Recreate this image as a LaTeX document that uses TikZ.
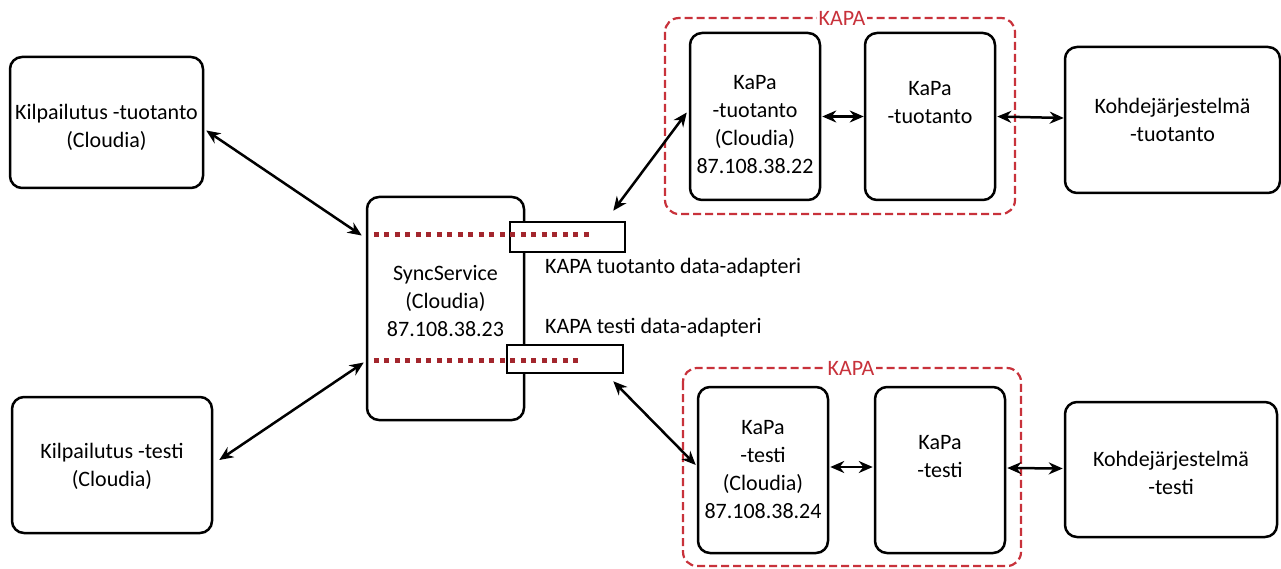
\documentclass[tikz,border=0pt]{standalone}
\usepackage{fontspec}
\setmainfont{Carlito}
\usetikzlibrary{arrows.meta,calc}
\definecolor{dotred}{HTML}{A3262D}
\definecolor{kapared}{HTML}{C8323B}
\tikzset{
  box/.style={draw=black,line width=2.5pt,rounded corners=12pt,fill=white,align=center,inner sep=0pt,font=\fontsize{22}{28}\selectfont},
  adbox/.style={draw=black,line width=2.5pt,fill=white,inner sep=0pt},
  grp/.style={draw=kapared,line width=2.2pt,dash pattern=on 8pt off 4pt,rounded corners=14pt},
  grplabel/.style={text=kapared,fill=white,inner sep=2pt,font=\fontsize{22}{26}\selectfont},
  dotline/.style={draw=dotred,line width=5pt,dash pattern=on 5pt off 5.5pt},
  conn/.style={line width=2.5pt,{Stealth[length=14pt,width=12pt]}-{Stealth[length=14pt,width=12pt]}},
  lbl/.style={anchor=west,inner sep=0pt,font=\fontsize{22}{26}\selectfont}
}
\begin{document}
\begin{tikzpicture}[x=1pt,y=-1pt]
\useasboundingbox (0,0) rectangle (1281,569);
\fill[white] (0,0) rectangle (1281,569);

% KAPA groups
\draw[grp] (665,18) rectangle (1015,214);
\node[grplabel] (g1) at (842,18) {KAPA};
\draw[grp] (683,368) rectangle (1021,566);
\node[grplabel] (g2) at (851,368) {KAPA};

% left boxes
\node[box,minimum width=193pt,minimum height=131pt] (kt) at (106.5,122.5) {\\[-3pt]Kilpailutus -tuotanto\\(Cloudia)};
\node[box,minimum width=200pt,minimum height=136pt] (kb) at (112,465) {\\[-10pt]Kilpailutus -testi\\(Cloudia)};

% SyncService
\node[box,minimum width=157pt,minimum height=223pt] (ss) at (445.5,308.5) {SyncService\\(Cloudia)\\87.108.38.23\\[-13pt]};

% adapters
\node[adbox,minimum width=115pt,minimum height=30pt] (at) at (567.5,237) {};
\node[adbox,minimum width=116pt,minimum height=28pt] (ab) at (565,359) {};
\draw[dotline] ($(ss.west)+(8,-73.5)$) coordinate (d1s) -- ($(at.west)+(82,-2)$) coordinate (d1e);
\draw[dotline] ($(ss.west)+(8,51.5)$) coordinate (d2s) -- ($(ab.west)+(73,1)$) coordinate (d2e);
\node[lbl] (lt) at (545,268) {KAPA tuotanto data-adapteri};
\node[lbl] (lb) at (545,328) {KAPA testi data-adapteri};

% top KaPa
\node[box,minimum width=130pt,minimum height=167pt] (kct) at (755,116.5) {\\[2pt]KaPa\\-tuotanto\\(Cloudia)\\87.108.38.22};
\node[box,minimum width=130pt,minimum height=167pt] (kpt) at (930,116.5) {KaPa\\-tuotanto\\~};
\node[box,minimum width=215pt,minimum height=146pt] (kot) at (1172.5,120) {Kohdejärjestelmä\\-tuotanto};

% bottom KaPa
\node[box,minimum width=130pt,minimum height=166pt] (kcb) at (763,470) {\\[-14pt]KaPa\\-testi\\(Cloudia)\\87.108.38.24};
\node[box,minimum width=130pt,minimum height=166pt] (kpb) at (940,470) {KaPa\\-testi\\~};
\node[box,minimum width=212pt,minimum height=135pt] (kob) at (1171,469.5) {\\[-6pt]Kohdejärjestelmä\\-testi};

% connectors
\draw[conn] ($(kt.east)+(2,8)$) -- ($(ss.west)+(-4,-73)$);
\draw[conn] ($(kb.east)+(6,-5)$) -- ($(ss.west)+(-2,54)$);
\draw[conn] ($(at.north east)+(-13,-10)$) -- ($(kct.west)+(-2,-4)$);
\draw[conn] ($(ab.south east)+(-11,7)$) -- ($(kcb.west)+(-1,-5)$);
\draw[conn] ($(kct.east)+(1,0)$) -- ($(kpt.west)+(0,0)$);
\draw[conn] ($(kpt.east)+(1,0)$) -- ($(kot.west)+(0,-2)$);
\draw[conn] ($(kcb.east)+(1,-3)$) -- ($(kpb.west)+(-1,-3)$);
\draw[conn] ($(kpb.east)+(1,-2)$) -- ($(kob.west)+(-1,-1)$);
\end{tikzpicture}
\end{document}
